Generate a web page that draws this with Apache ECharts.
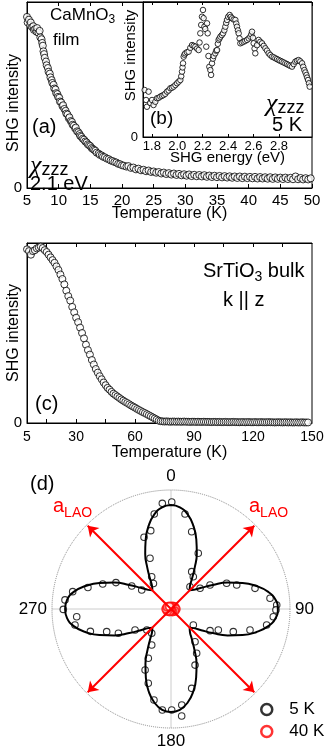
<!DOCTYPE html>
<html>
<head>
<meta charset="utf-8">
<script src="https://cdn.jsdelivr.net/npm/echarts@6.0.0/dist/echarts.min.js"></script>
<style>
html, body { margin: 0; padding: 0; background: #fff; }
#chart { width: 327px; height: 755px; }
</style>
</head>
<body>
<div id="chart"></div>
<script>
// (a) CaMnO3 film, SHG vs temperature  [T (K), intensity]
var ptsA = [[5.0,0.92],[5.1,0.89],[5.3,0.905],[5.5,0.875],[5.6,0.89],[5.8,0.865],[6.0,0.87],[6.1,0.85],[6.3,0.855],[6.5,0.84],[6.6,0.86],[6.8,0.835],[7.0,0.845],[7.1,0.81],[7.3,0.80],[7.4,0.78],[7.5,0.765],[7.6,0.735],[7.7,0.72],[7.8,0.70],[8.0,0.68],[8.1,0.66],[8.3,0.645],[8.4,0.625],[8.6,0.615],[8.7,0.595],[8.9,0.58],[9.0,0.565],[9.2,0.555],[9.3,0.535],[9.5,0.53],[9.6,0.51],[9.8,0.505],[9.9,0.49],[10.1,0.485],[10.2,0.465],[10.4,0.46],[10.6,0.44],[10.7,0.445],[10.9,0.425],[11.1,0.415],[11.2,0.40],[11.4,0.395],[11.6,0.375],[11.7,0.38],[11.9,0.36],[12.1,0.355],[12.2,0.34],[12.4,0.335],[12.6,0.32],[12.7,0.325],[12.9,0.305],[13.1,0.30],[13.3,0.29],[13.4,0.28],[13.6,0.275],[13.8,0.265],[14.0,0.26],[14.2,0.25],[14.4,0.245],[14.6,0.235],[14.8,0.23],[15.0,0.225],[15.2,0.215],[15.4,0.21],[15.6,0.205],[15.8,0.20],[16.0,0.19],[16.3,0.185],[16.5,0.178],[16.8,0.175],[17.0,0.168],[17.3,0.165],[17.6,0.158],[17.9,0.155],[18.2,0.148],[18.5,0.145],[18.8,0.14],[19.1,0.137],[19.4,0.13],[19.7,0.128],[20.0,0.122],[20.3,0.12],[20.7,0.115],[21.0,0.118],[21.4,0.108],[21.8,0.11],[22.2,0.10],[22.6,0.104],[23.0,0.095],[23.4,0.098],[23.8,0.09],[24.2,0.094],[24.6,0.086],[25.0,0.089],[25.4,0.082],[25.8,0.086],[26.2,0.078],[26.6,0.083],[27.0,0.075],[27.4,0.08],[27.8,0.072],[28.2,0.078],[28.6,0.07],[29.0,0.076],[29.4,0.068],[29.8,0.074],[30.2,0.066],[30.6,0.073],[31.0,0.064],[31.4,0.071],[31.8,0.063],[32.2,0.07],[32.6,0.062],[33.0,0.069],[33.4,0.06],[33.8,0.067],[34.2,0.059],[34.6,0.066],[35.0,0.058],[35.4,0.065],[35.8,0.057],[36.2,0.064],[36.6,0.056],[37.0,0.063],[37.4,0.055],[37.8,0.062],[38.2,0.054],[38.6,0.062],[39.0,0.053],[39.4,0.061],[39.8,0.053],[40.2,0.06],[40.6,0.052],[41.0,0.06],[41.4,0.051],[41.8,0.059],[42.2,0.051],[42.6,0.058],[43.0,0.05],[43.4,0.058],[43.8,0.049],[44.2,0.057],[44.6,0.049],[45.0,0.056],[45.4,0.048],[45.8,0.056],[46.2,0.048],[46.6,0.055],[47.0,0.047],[47.4,0.062],[47.8,0.047],[48.2,0.054],[48.6,0.046],[49.0,0.053],[49.4,0.046],[49.8,0.052]];

// (b) inset, SHG spectrum at 5 K  [energy (eV), intensity]
var ptsB = [[1.743,0.348],[1.754,0.274],[1.761,0.224],[1.774,0.336],[1.787,0.252],[1.801,0.274],[1.813,0.237],[1.827,0.261],[1.84,0.287],[1.853,0.29],[1.866,0.299],[1.879,0.305],[1.892,0.311],[1.905,0.32],[1.919,0.336],[1.932,0.345],[1.945,0.361],[1.958,0.365],[1.971,0.373],[1.985,0.385],[1.998,0.398],[2.011,0.41],[2.024,0.422],[2.031,0.45],[2.037,0.484],[2.041,0.515],[2.045,0.546],[2.05,0.595],[2.056,0.61],[2.063,0.62],[2.076,0.628],[2.089,0.632],[2.102,0.66],[2.116,0.681],[2.129,0.675],[2.142,0.669],[2.155,0.655],[2.168,0.644],[2.175,0.70],[2.181,0.768],[2.188,0.83],[2.194,0.891],[2.202,0.941],[2.207,0.88],[2.213,0.817],[2.22,0.80],[2.228,0.669],[2.234,0.842],[2.239,0.768],[2.245,0.60],[2.252,0.52],[2.26,0.496],[2.266,0.46],[2.273,0.546],[2.28,0.58],[2.286,0.60],[2.299,0.62],[2.306,0.64],[2.313,0.644],[2.319,0.69],[2.325,0.719],[2.332,0.73],[2.339,0.743],[2.35,0.755],[2.36,0.768],[2.37,0.79],[2.378,0.817],[2.385,0.845],[2.391,0.867],[2.4,0.89],[2.412,0.904],[2.421,0.89],[2.431,0.879],[2.444,0.87],[2.457,0.867],[2.464,0.84],[2.47,0.817],[2.477,0.79],[2.483,0.768],[2.49,0.73],[2.496,0.694],[2.509,0.70],[2.522,0.706],[2.535,0.712],[2.549,0.719],[2.562,0.73],[2.575,0.743],[2.582,0.76],[2.588,0.78],[2.595,0.735],[2.601,0.694],[2.608,0.655],[2.614,0.62],[2.627,0.68],[2.64,0.719],[2.653,0.705],[2.667,0.694],[2.68,0.675],[2.693,0.657],[2.706,0.64],[2.719,0.62],[2.732,0.607],[2.746,0.595],[2.759,0.59],[2.772,0.583],[2.785,0.577],[2.798,0.57],[2.811,0.564],[2.824,0.558],[2.837,0.552],[2.85,0.546],[2.863,0.54],[2.876,0.533],[2.889,0.527],[2.903,0.521],[2.916,0.54],[2.929,0.558],[2.942,0.565],[2.955,0.57],[2.968,0.56],[2.982,0.546],[2.991,0.52],[3.0,0.496],[3.008,0.478],[3.016,0.459],[3.022,0.44],[3.029,0.422],[3.036,0.398],[3.042,0.373]];

// (c) SrTiO3 bulk
var tempC = [5,6,7,8,9,10,11,12,13,14,15,16,17,18,19,20,21,22,23,24,25,26,27,28,29,30,31,32,33,34,35,36,37,38,39,40,41,42,43,44,45,46,47,48,49,50,51,52,53,54,55,56,57,58,59,60,61,62,63,64,65,66,67,68,69,70,71,72,73,74,75,76,77,78,79,80,81,82,83,84,85,86,87,88,89,90,91,92,93,94,95,96,97,98,99,100,101,102,103,104,105,106,107,108,109,110,111,112,113,114,115,116,117,118,119,120,121,122,123,124,125,126,127,128,129,130,131,132,133,134,135,136,137,138,139,140,141,142,143,144,145,146,147,148,149,150];
var shgC = [0.965,0.955,0.935,0.955,0.96,0.97,0.975,0.98,0.972,0.96,0.95,0.935,0.92,0.905,0.89,0.87,0.85,0.825,0.80,0.77,0.735,0.705,0.68,0.645,0.615,0.585,0.56,0.53,0.50,0.47,0.435,0.405,0.38,0.35,0.325,0.30,0.28,0.26,0.243,0.225,0.21,0.195,0.185,0.173,0.163,0.155,0.147,0.139,0.131,0.124,0.117,0.111,0.104,0.097,0.091,0.085,0.078,0.072,0.066,0.06,0.055,0.049,0.043,0.037,0.031,0.025,0.019,0.013,0.010,0.009,0.008,0.009,0.008,0.007,0.008,0.008,0.007,0.008,0.007,0.007,0.008,0.007,0.007,0.006,0.007,0.007,0.006,0.007,0.006,0.006,0.007,0.006,0.006,0.006,0.005,0.006,0.006,0.005,0.006,0.005,0.005,0.006,0.005,0.005,0.005,0.006,0.005,0.005,0.004,0.005,0.005,0.004,0.005,0.005,0.004,0.004,0.005,0.004,0.004,0.005,0.004,0.004,0.004,0.005,0.004,0.004,0.003,0.004,0.004,0.004,0.003,0.004,0.004,0.003,0.004,0.003,0.003,0.004,0.003,0.003,0.004,0.003,0.003,0.003];

// (d) polar pattern: fitted curve (angle deg, radius) and points [angle, radius]
var fitAngle = [0,5,10,15,20,25,30,35,40,45,50,55,60,65,70,75,80,85,90,95,100,105,110,115,120,125,130,135,140,145,150,155,160,165,170,175,180,185,190,195,200,205,210,215,220,225,230,235,240,245,250,255,260,265,270,275,280,285,290,295,300,305,310,315,320,325,330,335,340,345,350,355,360];
var fitR = [0.874,0.858,0.808,0.725,0.622,0.513,0.397,0.305,0.247,0.222,0.25,0.31,0.405,0.525,0.64,0.745,0.83,0.882,0.898,0.882,0.83,0.745,0.64,0.525,0.405,0.31,0.25,0.222,0.247,0.303,0.393,0.508,0.617,0.72,0.80,0.85,0.866,0.85,0.80,0.72,0.617,0.508,0.393,0.303,0.247,0.222,0.25,0.31,0.405,0.525,0.64,0.745,0.83,0.877,0.89,0.877,0.83,0.745,0.64,0.525,0.405,0.31,0.25,0.222,0.247,0.305,0.397,0.513,0.622,0.725,0.808,0.858,0.874];
var pts5K = [[355.3,0.891],[0.4,0.899],[350,0.81],[8.4,0.807],[15,0.672],[339.4,0.644],[345.5,0.68],[26.1,0.521],[337.5,0.461],[29,0.359],[34.6,0.33],[329.1,0.316],[325.4,0.26],[40.4,0.246],
  [54.5,0.30],[58.4,0.385],[65.2,0.515],[69.9,0.588],[76.2,0.727],[83.8,0.837],[87.8,0.889],[90.5,0.882],[94.3,0.862],[99.5,0.815],[104.9,0.687],[110,0.557],[113.9,0.435],[119,0.375],[125.7,0.231],
  [143.7,0.341],[149.9,0.43],[156.8,0.513],[165.4,0.689],[173.6,0.812],[179.6,0.849],[174.3,0.903],[184.9,0.852],[190.6,0.778],[197,0.653],[203,0.557],[204.7,0.456],[208.2,0.343],[218.5,0.26],
  [229,0.269],[239.7,0.35],[245.2,0.487],[250.6,0.573],[254.5,0.703],[260.5,0.818],[265.3,0.795],[269.8,0.905],[274.9,0.894],[280,0.839],[284.5,0.721],[290.1,0.611],[295.6,0.513],[300.3,0.382],[302.9,0.293]];
var pts40K = [[0,0.015],[30,0.025],[60,0.035],[90,0.04],[120,0.035],[150,0.025],[180,0.015],[210,0.025],[240,0.035],[270,0.04],[300,0.035],[330,0.025]];

var tickB = [1.8, 2.0, 2.2, 2.4, 2.6, 2.8];
var tickC = [5, 30, 60, 90, 120, 150];
var minorC = [15, 30, 45, 60, 75, 90, 105, 120, 135];
var arrowEnds = [[45, 225], [135, 315]];

var FONT = '"Liberation Sans", Arial, sans-serif';
var SERIF = '"Liberation Serif", "DejaVu Serif", serif';

function xAx(grid, min, max, pos, extra) {
    var a = {
        gridIndex: grid, type: 'value', min: min, max: max, position: pos,
        axisLine: {lineStyle: {color: '#000', width: 1}},
        axisTick: {inside: true, length: 4, lineStyle: {color: '#000'}},
        axisLabel: {show: pos === 'bottom', color: '#000', fontFamily: FONT},
        splitLine: {show: false},
        nameMoveOverlap: false
    };
    return Object.assign(a, extra || {});
}
function yAx(grid, nameGap, fs, extra) {
    var a = {
        gridIndex: grid, type: 'value', min: 0, max: 1,
        axisLine: {lineStyle: {color: '#000', width: 1}},
        axisTick: {show: false},
        axisLabel: {customValues: [0], color: '#000', fontFamily: FONT, fontSize: fs, margin: 5},
        splitLine: {show: false},
        name: 'SHG intensity', nameLocation: 'middle', nameRotate: 90, nameGap: nameGap,
        nameMoveOverlap: false,
        nameTextStyle: {color: '#000', fontFamily: FONT, fontSize: 16}
    };
    return Object.assign(a, extra || {});
}
function txt(x, y, text, size, color, rich) {
    return {
        type: 'text', x: x, y: y, z: 100,
        style: {text: text, fill: color || '#000', font: size + 'px ' + FONT, verticalAlign: 'middle', rich: rich}
    };
}
function subRich(big, small, pad, color, bigFamily, bigStyle) {
    return {
        m: {fontSize: big, fontFamily: bigFamily || FONT, fontStyle: bigStyle || 'normal', fill: color || '#000', verticalAlign: 'top'},
        s: {fontSize: small, fontFamily: FONT, fill: color || '#000', verticalAlign: 'bottom', padding: [pad, 0, 0, 0]}
    };
}

var openCircle = {color: '#fff', borderColor: '#000', borderWidth: 1};

var option = {
    animation: false,
    backgroundColor: '#fff',
    textStyle: {fontFamily: FONT},
    grid: [
        {left: 27, top: 2, width: 285, height: 186, outerBoundsMode: 'none', containLabel: false, show: true, borderColor: '#000', borderWidth: 1, backgroundColor: 'transparent'},
        {left: 143, top: 2, width: 169, height: 135, outerBoundsMode: 'none', containLabel: false, show: true, borderColor: '#000', borderWidth: 1, backgroundColor: '#fff', z: 3},
        {left: 27, top: 243, width: 285, height: 180, outerBoundsMode: 'none', containLabel: false, show: true, borderColor: '#000', borderWidth: 1, backgroundColor: 'transparent'}
    ],
    xAxis: [
        xAx(0, 5, 50, 'bottom', {interval: 5, axisLabel: {color: '#000', fontFamily: FONT, fontSize: 15, margin: 5},
            name: 'Temperature (K)', nameLocation: 'middle', nameGap: 18, nameTextStyle: {color: '#000', fontFamily: FONT, fontSize: 16}}),
        xAx(0, 5, 50, 'top', {interval: 5}),
        xAx(1, 1.73, 3.06, 'bottom', {z: 4,
            axisTick: {inside: true, length: 3, customValues: tickB, lineStyle: {color: '#000'}},
            axisLabel: {customValues: tickB, formatter: function (v) { return v.toFixed(1); }, color: '#000', fontFamily: FONT, fontSize: 13, margin: 3},
            name: 'SHG energy (eV)', nameLocation: 'middle', nameGap: 13, nameTextStyle: {color: '#000', fontFamily: FONT, fontSize: 15}}),
        xAx(1, 1.73, 3.06, 'top', {z: 4, axisTick: {inside: true, length: 3, customValues: tickB, lineStyle: {color: '#000'}}}),
        xAx(2, 5, 150, 'bottom', {
            axisTick: {inside: true, length: 4, customValues: minorC, lineStyle: {color: '#000'}},
            axisLabel: {customValues: tickC, color: '#000', fontFamily: FONT, fontSize: 14, margin: 7},
            name: 'Temperature (K)', nameLocation: 'middle', nameGap: 22, nameTextStyle: {color: '#000', fontFamily: FONT, fontSize: 16}}),
        xAx(2, 5, 150, 'top', {axisTick: {inside: true, length: 4, customValues: minorC, lineStyle: {color: '#000'}}})
    ],
    yAxis: [
        yAx(0, 5, 15, {nameTextStyle: {color: '#000', fontFamily: FONT, fontSize: 16, padding: [0, 16, 0, 0]}}),
        yAx(1, 5, 13, {z: 4, nameTextStyle: {color: '#000', fontFamily: FONT, fontSize: 15, padding: [0, 0, 0, 28]}}),
        yAx(2, 5, 15)
    ],
    polar: {center: [171, 609], radius: 119},
    angleAxis: {
        type: 'value', min: 0, max: 360, interval: 90, startAngle: 90, clockwise: true,
        axisLine: {lineStyle: {color: '#888', type: 'dotted', width: 1}},
        axisTick: {show: false},
        axisLabel: {color: '#000', fontFamily: FONT, fontSize: 17, margin: 5,
            formatter: function (v) { return v === 360 ? '' : String(v); }},
        splitLine: {show: true, lineStyle: {color: '#ccc', width: 1}}
    },
    radiusAxis: {
        type: 'value', min: 0, max: 1,
        axisLine: {show: false}, axisTick: {show: false}, axisLabel: {show: false}, splitLine: {show: false}
    },
    legend: {
        orient: 'vertical', left: 255, top: 696, itemWidth: 11, itemHeight: 11, itemGap: 5, icon: 'circle',
        selectedMode: false,
        textStyle: {color: '#000', fontFamily: FONT, fontSize: 17, lineHeight: 17, padding: [0, 0, 0, 12]},
        data: [
            {name: '5 K', itemStyle: {color: '#fff', borderColor: '#000', borderWidth: 2.5}},
            {name: '40 K', itemStyle: {color: '#fff', borderColor: '#f00', borderWidth: 2.5}}
        ]
    },
    series: [
        {type: 'scatter', xAxisIndex: 0, yAxisIndex: 0, symbolSize: 7, itemStyle: openCircle, data: ptsA},
        {type: 'scatter', xAxisIndex: 2, yAxisIndex: 1, symbolSize: 5.5, z: 5, itemStyle: openCircle, data: ptsB},
        {type: 'scatter', xAxisIndex: 4, yAxisIndex: 2, symbolSize: 7, itemStyle: openCircle,
            data: tempC.map(function (t, i) { return [t, shgC[i]]; })},
        {type: 'line', name: 'fit', coordinateSystem: 'polar', smooth: true, showSymbol: false, silent: true,
            lineStyle: {color: '#000', width: 2},
            data: fitAngle.map(function (a, i) { return [fitR[i], a]; })},
        {type: 'scatter', name: '5 K', coordinateSystem: 'polar', symbolSize: 6.5,
            itemStyle: {color: '#fff', borderColor: '#000', borderWidth: 1.1},
            data: pts5K.map(function (p) { return [p[1], p[0]]; })},
        {type: 'scatter', name: '40 K', coordinateSystem: 'polar', symbolSize: 8, z: 4,
            itemStyle: {color: '#fff', borderColor: '#f00', borderWidth: 2},
            data: pts40K.map(function (p) { return [p[1], p[0]]; }),
            markLine: {
                silent: true, symbol: ['arrow', 'arrow'], symbolSize: [10, 10], label: {show: false},
                lineStyle: {color: '#f00', width: 2, type: 'solid'},
                data: arrowEnds.map(function (e) { return [{coord: [0.99, e[0]]}, {coord: [0.99, e[1]]}]; })
            }}
    ],
    graphic: [
        txt(50, 16, '{m|CaMnO}{s|3}', 17, '#000', subRich(17, 12, 7)),
        txt(53, 40, 'film', 17),
        txt(32, 127, '(a)', 20),
        txt(30, 166, '{m|χ}{s|zzz}', 26, '#000', subRich(26, 18, 8, '#000', SERIF, 'italic')),
        txt(30, 184, '2.1 eV', 20),
        txt(150, 119, '(b)', 19),
        txt(266, 104, '{m|χ}{s|zzz}', 26, '#000', subRich(26, 18, 8, '#000', SERIF, 'italic')),
        txt(272, 125, '5 K', 20),
        txt(203, 273, '{m|SrTiO}{s|3}{m| bulk}', 20, '#000', subRich(20, 14, 9)),
        txt(223, 300, 'k || z', 20),
        txt(35, 404, '(c)', 20),
        txt(30, 484, '(d)', 20),
        txt(53, 508, '{m|a}{s|LAO}', 20, '#f00', subRich(20, 14, 10, '#f00')),
        txt(249, 508, '{m|a}{s|LAO}', 20, '#f00', subRich(20, 14, 10, '#f00'))
    ]
};

var chart = echarts.init(document.getElementById('chart'));
chart.setOption(option);
</script>
</body>
</html>
